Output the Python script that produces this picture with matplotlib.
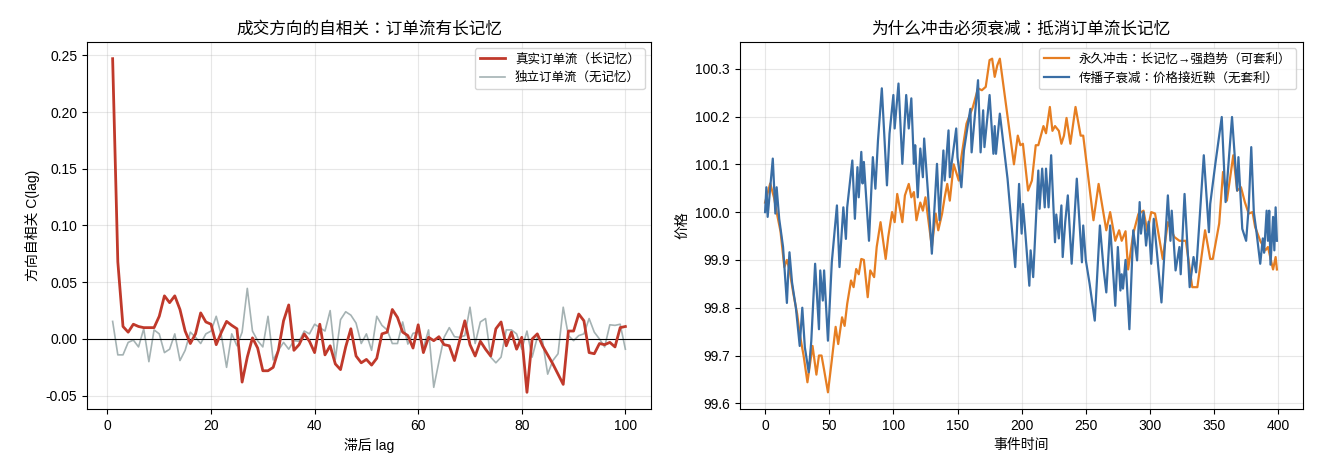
import matplotlib
matplotlib.use("Agg")
import matplotlib.pyplot as plt

plt.rcParams['font.family'] = ['Liberation Sans', 'Noto Sans CJK TC', 'DejaVu Sans']
plt.rcParams['axes.unicode_minus'] = False

# ---------------- Left panel data ----------------
lags = list(range(1, 101))
acf_real = [0.247, 0.068, 0.011, 0.006, 0.013, 0.011, 0.010, 0.010, 0.010, 0.020,
            0.038, 0.032, 0.038, 0.026, 0.007, -0.004, 0.0045, 0.023, 0.015, 0.013,
            -0.005, 0.006, 0.0155, 0.012, 0.009, -0.038, -0.016, 0.001, -0.008, -0.028,
            -0.028, -0.025, -0.010, 0.016, 0.030, -0.010, -0.005, 0.0045, -0.002, -0.012,
            0.013, -0.014, -0.006, -0.022, -0.027, -0.007, 0.009, -0.015, -0.021, -0.018,
            -0.023, -0.017, 0.0045, 0.006, 0.026, 0.019, 0.006, 0.003, -0.008, 0.0125,
            -0.012, 0.0015, -0.0015, 0.002, -0.005, -0.006, -0.019, -0.0015, 0.016, -0.005,
            -0.015, -0.002, -0.009, -0.015, 0.009, 0.015, -0.006, 0.006, -0.009, 0.0015,
            -0.047, 0.000, 0.0045, -0.006, -0.014, -0.022, -0.031, -0.040, 0.007, 0.007,
            0.022, 0.016, -0.012, -0.013, -0.004, -0.005, -0.003, -0.007, 0.010, 0.011]
acf_indep = [0.0155, -0.014, -0.014, -0.003, -0.001, -0.007, 0.009, -0.020, 0.008, 0.0045,
             -0.012, -0.009, 0.0045, -0.019, -0.010, 0.006, 0.0015, -0.004, 0.0045, 0.007,
             0.020, 0.003, -0.025, 0.0045, -0.006, 0.006, 0.0446, 0.007, -0.0015, -0.007,
             0.020, -0.0185, -0.010, -0.003, -0.009, -0.0015, -0.002, 0.007, 0.0045, 0.013,
             0.010, 0.007, 0.025, -0.018, 0.017, 0.024, 0.021, 0.014, -0.004, 0.0045,
             -0.010, 0.020, 0.012, 0.008, -0.004, -0.004, 0.015, -0.0045, 0.005, 0.006,
             -0.008, 0.008, -0.0426, -0.020, 0.0015, 0.010, 0.002, 0.0015, 0.003, 0.028,
             -0.004, 0.015, 0.018, -0.016, -0.021, -0.016, 0.008, 0.008, 0.0045, -0.009,
             0.007, -0.016, 0.0015, -0.0015, -0.031, -0.019, -0.013, 0.028, 0.003, -0.0015,
             0.003, 0.0045, 0.018, 0.006, 0.000, -0.007, 0.0125, 0.012, 0.013, -0.009]

# ---------------- Right panel data ----------------
t_perm = [0, 4, 7, 9, 12, 15, 17, 19, 22, 25, 27, 30, 33, 37, 40, 42, 44, 46, 49, 52,
          55, 57, 60, 62, 64, 67, 69, 71, 73, 75, 77, 80, 82, 85, 87, 90, 94, 96, 99, 101,
          103, 107, 109, 112, 114, 116, 118, 121, 123, 125, 127, 130, 133, 135, 138, 140, 142, 144, 147, 151,
          153, 157, 162, 166, 169, 172, 175, 177, 179, 181, 183, 188, 194, 197, 199, 201, 205, 208, 211, 213,
          215, 217, 219, 222, 224, 226, 229, 231, 233, 235, 238, 242, 246, 248, 256, 260, 266, 269, 273, 276,
          278, 281, 283, 287, 291, 295, 298, 301, 304, 310, 314, 319, 323, 328, 333, 337, 343, 347, 349, 354,
          357, 360, 365, 368, 371, 374, 377, 380, 382, 386, 390, 392, 396, 398, 399]
p_perm = [100.02, 100.06, 100.03, 100.0, 99.96, 99.885, 99.90, 99.88, 99.83, 99.787,
          99.745, 99.70, 99.644, 99.72, 99.66, 99.70, 99.70, 99.67, 99.623, 99.69,
          99.76, 99.724, 99.78, 99.762, 99.808, 99.857, 99.843, 99.881, 99.87, 99.902,
          99.90, 99.822, 99.878, 99.864, 99.927, 99.979, 99.902, 99.948, 100.0, 99.979,
          100.038, 99.979, 100.035, 100.059, 100.031, 100.042, 99.983, 100.02, 100.003, 100.031,
          99.99, 99.927, 99.997, 99.962, 99.997, 100.031, 100.059, 100.024, 100.10, 100.066,
          100.115, 100.185, 100.22, 100.259, 100.255, 100.262, 100.318, 100.321, 100.283, 100.307,
          100.321, 100.22, 100.10, 100.16, 100.14, 100.143, 100.045, 100.066, 100.14, 100.14,
          100.16, 100.18, 100.165, 100.22, 100.17, 100.18, 100.17, 100.143, 100.16, 100.197,
          100.143, 100.22, 100.16, 100.16, 99.983, 100.059, 99.962, 100.0, 99.94, 99.962,
          99.94, 99.96, 99.88, 99.955, 99.996, 100.003, 99.96, 100.0, 99.997, 99.902,
          99.979, 99.948, 99.94, 99.94, 99.843, 99.843, 99.962, 99.902, 99.902, 99.976,
          100.084, 100.024, 100.119, 100.045, 100.052, 100.021, 99.997, 100.0, 99.969, 99.94,
          99.92, 99.927, 99.88, 99.906, 99.88]

t_prop = [0, 1, 2, 6, 8, 9, 11, 14, 17, 18, 19, 21, 24, 27, 29, 31, 34, 36, 39, 42,
          43, 45, 46, 49, 52, 56, 58, 61, 63, 64, 68, 70, 72, 73, 75, 76, 77, 81, 84, 86,
          88, 91, 95, 97, 100, 101, 104, 107, 110, 112, 114, 116, 117, 119, 121, 123, 124, 127, 130, 134,
          136, 139, 140, 143, 144, 149, 150, 153, 155, 160, 161, 166, 168, 170, 171, 175, 178, 179, 180, 183,
          189, 195, 198, 200, 201, 203, 206, 207, 209, 213, 214, 216, 218, 219, 221, 223, 226, 227, 229, 231,
          232, 234, 236, 239, 243, 247, 248, 250, 253, 257, 261, 264, 266, 269, 273, 275, 277, 278, 279, 281,
          284, 287, 290, 292, 293, 295, 297, 299, 301, 303, 306, 309, 314, 316, 317, 320, 323, 324, 327, 331,
          334, 336, 342, 346, 347, 351, 356, 359, 364, 368, 369, 372, 375, 377, 379, 381, 383, 386, 388, 389,
          391, 392, 393, 394, 396, 397, 398, 399]
p_prop = [100.0, 100.052, 99.99, 100.112, 99.997, 100.052, 99.986, 99.927, 99.81, 99.87,
          99.916, 99.853, 99.80, 99.72, 99.80, 99.717, 99.665, 99.73, 99.892, 99.755,
          99.878, 99.815, 99.878, 99.731, 99.895, 100.014, 99.885, 100.01, 99.944, 100.01,
          100.108, 99.986, 100.094, 100.031, 100.126, 100.06, 100.105, 99.94, 100.115, 100.049,
          100.15, 100.259, 100.056, 100.164, 100.245, 100.175, 100.269, 100.101, 100.245, 100.175,
          100.238, 100.101, 100.14, 100.031, 100.133, 100.073, 100.154, 100.04, 99.913, 100.101,
          99.983, 100.129, 100.066, 100.171, 100.073, 100.175, 100.115, 100.052, 100.129, 100.216,
          100.125, 100.276, 100.125, 100.213, 100.136, 100.245, 100.122, 100.18, 100.122, 100.206,
          100.07, 99.885, 100.059, 99.955, 100.017, 99.952, 99.846, 99.92, 99.864, 100.087,
          100.007, 100.091, 100.01, 100.091, 100.01, 100.119, 99.937, 99.995, 99.945, 100.014,
          99.906, 99.98, 100.035, 99.892, 100.07, 99.895, 99.972, 99.90, 99.85, 99.773,
          99.972, 99.878, 99.832, 99.972, 99.804, 99.927, 99.836, 99.87, 99.84, 99.90,
          99.755, 99.962, 99.899, 100.021, 99.955, 100.0, 99.93, 99.98, 99.892, 99.986,
          99.90, 99.811, 100.035, 99.94, 100.003, 99.878, 99.927, 99.87, 100.038, 99.843,
          99.906, 99.874, 100.119, 99.958, 100.017, 100.101, 100.199, 100.021, 100.199, 100.045,
          100.115, 99.965, 99.94, 100.01, 100.136, 100.0, 99.96, 99.892, 99.945, 99.915,
          100.003, 99.94, 100.003, 99.89, 99.99, 99.92, 100.01, 99.94]

fig = plt.figure(figsize=(13.2, 4.73), dpi=100)
ax1 = fig.add_axes([87 / 1320, 1 - 409 / 473, 564 / 1320, 367 / 473])
ax2 = fig.add_axes([739.5 / 1320, 1 - 409 / 473, 563 / 1320, 367 / 473])

ax1.plot(lags, acf_real, color='#c0392b', lw=2.0, label='真实订单流（长记忆）', zorder=3)
ax1.plot(lags, acf_indep, color='#95a5a6', lw=1.2, alpha=0.85, label='独立订单流（无记忆）', zorder=2)
ax1.axhline(0, color='black', lw=0.8)
ax1.set_title('成交方向的自相关：订单流有长记忆', fontsize=12)
ax1.set_xlabel('滞后 lag', fontsize=10)
ax1.set_ylabel('方向自相关 C(lag)', fontsize=10)
ax1.grid(True, alpha=0.3)
ax1.legend(loc='upper right', fontsize=9)

ax2.plot(t_perm, p_perm, color='#e67e22', lw=1.6, label='永久冲击：长记忆→强趋势（可套利）')
ax2.plot(t_prop, p_prop, color='#3a6ea5', lw=1.6, label='传播子衰减：价格接近鞅（无套利）')
ax2.set_title('为什么冲击必须衰减：抵消订单流长记忆', fontsize=12)
ax2.set_xlabel('事件时间', fontsize=10)
ax2.set_ylabel('价格', fontsize=10)
ax2.grid(True, alpha=0.3)
ax2.legend(loc='upper right', fontsize=9)

fig.savefig('out.png', dpi=100)
